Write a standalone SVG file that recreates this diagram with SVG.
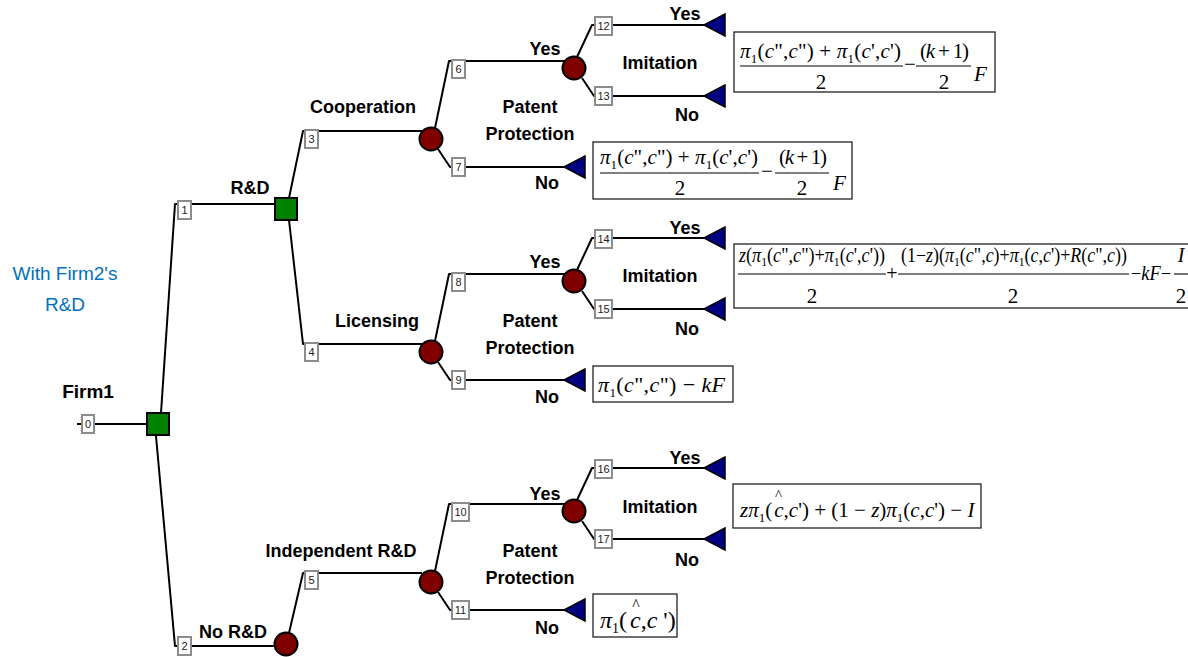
<svg xmlns="http://www.w3.org/2000/svg" width="1188" height="657" viewBox="0 0 1188 657">
<defs>
<style>
.w{fill:none;stroke:#000;stroke-width:2;stroke-linejoin:round}
.dec{fill:#008000;stroke:#000;stroke-width:2}
.ch{fill:#800000;stroke:#000;stroke-width:2}
.end{fill:#000080;stroke:#000;stroke-width:1.5}
.tag rect{fill:#fff;stroke:#8c8c8c;stroke-width:2}
.tag text{font-family:"Liberation Sans",Arial,sans-serif;font-size:11px;fill:#222;text-anchor:middle}
.lb{font-family:"Liberation Sans",Arial,sans-serif;font-weight:bold;font-size:18px;fill:#000;text-anchor:middle}
.note{font-family:"Liberation Sans",Arial,sans-serif;font-size:19px;fill:#0070c0;text-anchor:middle}
.pb{fill:#fff;stroke:#222;stroke-width:1.3}
.m{font-family:"Liberation Serif","Times New Roman",serif;font-size:21px;fill:#000}
.m3{font-size:20px}
.d3{font-size:21px}
.i{font-style:italic}
.s{font-size:13px}
.fr{stroke:#000;stroke-width:1.1}
.c{text-anchor:middle}
</style>
</defs>
<rect width="1188" height="657" fill="#fff"/>

<!-- branches -->
<g id="connectors">
<path class="w" d="M77,424 H82 M94,424 H147"/>
<path class="w" d="M161,413 L175,204 H275"/>
<path class="w" d="M156,436 L175,646 H276"/>
<path class="w" d="M289,198 L303,131 H422"/>
<path class="w" d="M289,220 L303,344 H422"/>
<path class="w" d="M289,633 L303,573 H422"/>
<path class="w" d="M435,128 L449,61 H565"/>
<path class="w" d="M438,149 L450,167 H564"/>
<path class="w" d="M577,57 L592,25 H704"/>
<path class="w" d="M582,78 L594,96 H704"/>
<path class="w" d="M435,341 L449,274 H565"/>
<path class="w" d="M438,362 L450,380 H564"/>
<path class="w" d="M577,270 L592,238 H704"/>
<path class="w" d="M582,291 L594,309 H704"/>
<path class="w" d="M435,571 L449,504 H565"/>
<path class="w" d="M438,592 L450,610 H564"/>
<path class="w" d="M577,500 L592,468 H704"/>
<path class="w" d="M582,521 L594,539 H704"/>
</g>

<!-- decision nodes -->
<g id="node-firm1"><rect class="dec" x="147" y="413" width="22" height="22"/><text class="lb" x="88" y="398" style="font-size:19px">Firm1</text></g>
<g id="node-rd"><rect class="dec" x="275" y="198" width="22" height="22"/></g>

<!-- chance nodes -->
<g id="node-nord"><circle class="ch" cx="286" cy="644" r="11.5"/></g>
<g id="node-coop"><circle class="ch" cx="431" cy="139" r="11.5"/></g>
<g id="node-lic"><circle class="ch" cx="431" cy="352" r="11.5"/></g>
<g id="node-ind"><circle class="ch" cx="431" cy="582" r="11.5"/></g>
<g id="node-imit-a"><circle class="ch" cx="574" cy="68" r="11.5"/></g>
<g id="node-imit-b"><circle class="ch" cx="574" cy="281" r="11.5"/></g>
<g id="node-imit-c"><circle class="ch" cx="574" cy="511" r="11.5"/></g>

<!-- end nodes -->
<g id="node-end12"><polygon class="end" points="704,25 725,14 725,36"/></g>
<g id="node-end13"><polygon class="end" points="704,96 725,85 725,107"/></g>
<g id="node-end7"><polygon class="end" points="564,167 585,156 585,178"/></g>
<g id="node-end14"><polygon class="end" points="704,238 725,227 725,249"/></g>
<g id="node-end15"><polygon class="end" points="704,309 725,298 725,320"/></g>
<g id="node-end9"><polygon class="end" points="564,380 585,369 585,391"/></g>
<g id="node-end16"><polygon class="end" points="704,468 725,457 725,479"/></g>
<g id="node-end17"><polygon class="end" points="704,539 725,528 725,550"/></g>
<g id="node-end11"><polygon class="end" points="564,610 585,599 585,621"/></g>

<!-- numbered tags -->
<g class="tag" id="tags">
<rect x="82" y="415" width="12" height="18"/><text x="88" y="428">0</text>
<rect x="178" y="201" width="13" height="18"/><text x="184.5" y="214">1</text>
<rect x="178" y="637" width="13" height="18"/><text x="184.5" y="650">2</text>
<rect x="305" y="130" width="13" height="18"/><text x="311.5" y="143">3</text>
<rect x="305" y="343" width="13" height="18"/><text x="311.5" y="356">4</text>
<rect x="305" y="571" width="13" height="18"/><text x="311.5" y="584">5</text>
<rect x="452" y="60" width="13" height="18"/><text x="458.5" y="73">6</text>
<rect x="452" y="158" width="13" height="18"/><text x="458.5" y="171">7</text>
<rect x="452" y="273" width="13" height="18"/><text x="458.5" y="286">8</text>
<rect x="452" y="371" width="13" height="18"/><text x="458.5" y="384">9</text>
<rect x="452" y="503" width="17" height="18"/><text x="460.5" y="516">10</text>
<rect x="452" y="601" width="17" height="18"/><text x="460.5" y="614">11</text>
<rect x="595" y="17" width="17" height="18"/><text x="603.5" y="30">12</text>
<rect x="595" y="87" width="17" height="18"/><text x="603.5" y="100">13</text>
<rect x="595" y="230" width="17" height="18"/><text x="603.5" y="243">14</text>
<rect x="595" y="300" width="17" height="18"/><text x="603.5" y="313">15</text>
<rect x="595" y="460" width="17" height="18"/><text x="603.5" y="473">16</text>
<rect x="595" y="530" width="17" height="18"/><text x="603.5" y="543">17</text>
</g>

<!-- branch labels -->
<g id="labels">
<text class="note" x="65" y="280">With Firm2's</text>
<text class="note" x="65" y="311">R&amp;D</text>
<text class="lb" x="250" y="194">R&amp;D</text>
<text class="lb" x="233" y="638">No R&amp;D</text>
<text class="lb" x="363" y="113">Cooperation</text>
<text class="lb" x="377" y="327">Licensing</text>
<text class="lb" x="341" y="557">Independent R&amp;D</text>

<text class="lb" x="545" y="55">Yes</text>
<text class="lb" x="530" y="113">Patent</text>
<text class="lb" x="530" y="140">Protection</text>
<text class="lb" x="547" y="189">No</text>
<text class="lb" x="685" y="20">Yes</text>
<text class="lb" x="660" y="69">Imitation</text>
<text class="lb" x="687" y="121">No</text>

<text class="lb" x="545" y="268">Yes</text>
<text class="lb" x="530" y="327">Patent</text>
<text class="lb" x="530" y="354">Protection</text>
<text class="lb" x="547" y="403">No</text>
<text class="lb" x="685" y="234">Yes</text>
<text class="lb" x="660" y="282">Imitation</text>
<text class="lb" x="687" y="335">No</text>

<text class="lb" x="545" y="500">Yes</text>
<text class="lb" x="530" y="557">Patent</text>
<text class="lb" x="530" y="584">Protection</text>
<text class="lb" x="547" y="634">No</text>
<text class="lb" x="685" y="464">Yes</text>
<text class="lb" x="660" y="513">Imitation</text>
<text class="lb" x="687" y="566">No</text>
</g>

<!-- payoffs -->
<g id="payoff-coop-yes">
<rect class="pb" x="734" y="32" width="261" height="60"/>
<text class="m" x="740" y="58" textLength="161" lengthAdjust="spacing"><tspan class="i">π</tspan><tspan class="s" dy="5">1</tspan><tspan dy="-5">(</tspan><tspan class="i">c</tspan>",<tspan class="i">c</tspan>") + <tspan class="i">π</tspan><tspan class="s" dy="5">1</tspan><tspan dy="-5">(</tspan><tspan class="i">c</tspan>',<tspan class="i">c</tspan>')</text>
<line class="fr" x1="740" y1="66" x2="903" y2="66"/>
<text class="m c" x="821" y="89">2</text>
<text class="m c" x="910" y="71">−</text>
<text class="m" x="920" y="58" textLength="49" lengthAdjust="spacing">(<tspan class="i">k</tspan> + 1)</text>
<line class="fr" x1="916" y1="66" x2="971" y2="66"/>
<text class="m c" x="944" y="89">2</text>
<text class="m i" x="974" y="81">F</text>
</g>

<g id="payoff-coop-no">
<rect class="pb" x="593" y="142" width="259" height="57"/>
<text class="m" x="600" y="164" textLength="158" lengthAdjust="spacing"><tspan class="i">π</tspan><tspan class="s" dy="5">1</tspan><tspan dy="-5">(</tspan><tspan class="i">c</tspan>",<tspan class="i">c</tspan>") + <tspan class="i">π</tspan><tspan class="s" dy="5">1</tspan><tspan dy="-5">(</tspan><tspan class="i">c</tspan>',<tspan class="i">c</tspan>')</text>
<line class="fr" x1="600" y1="173" x2="759" y2="173"/>
<text class="m c" x="680" y="195">2</text>
<text class="m c" x="767" y="178">−</text>
<text class="m" x="779" y="164" textLength="48" lengthAdjust="spacing">(<tspan class="i">k</tspan> + 1)</text>
<line class="fr" x1="775" y1="173" x2="829" y2="173"/>
<text class="m c" x="802" y="195">2</text>
<text class="m i" x="833" y="190">F</text>
</g>

<g id="payoff-lic-yes">
<rect class="pb" x="734" y="244" width="460" height="64"/>
<text class="m m3" x="739" y="262" textLength="146" lengthAdjust="spacingAndGlyphs"><tspan class="i">z</tspan>(<tspan class="i">π</tspan><tspan class="s" dy="4">1</tspan><tspan dy="-4">(</tspan><tspan class="i">c</tspan>",<tspan class="i">c</tspan>")+<tspan class="i">π</tspan><tspan class="s" dy="4">1</tspan><tspan dy="-4">(</tspan><tspan class="i">c</tspan>',<tspan class="i">c</tspan>'))</text>
<line class="fr" x1="738" y1="274" x2="886" y2="274"/>
<text class="m d3 c" x="812" y="303">2</text>
<text class="m m3 c" x="892" y="280">+</text>
<text class="m m3" x="901" y="262" textLength="226" lengthAdjust="spacingAndGlyphs">(1−<tspan class="i">z</tspan>)(<tspan class="i">π</tspan><tspan class="s" dy="4">1</tspan><tspan dy="-4">(</tspan><tspan class="i">c</tspan>",<tspan class="i">c</tspan>)+<tspan class="i">π</tspan><tspan class="s" dy="4">1</tspan><tspan dy="-4">(</tspan><tspan class="i">c</tspan>,<tspan class="i">c</tspan>')+<tspan class="i">R</tspan>(<tspan class="i">c</tspan>",<tspan class="i">c</tspan>))</text>
<line class="fr" x1="898" y1="274" x2="1129" y2="274"/>
<text class="m d3 c" x="1013" y="303">2</text>
<text class="m m3" x="1131" y="280" textLength="40" lengthAdjust="spacingAndGlyphs">−<tspan class="i">kF</tspan>−</text>
<text class="m m3 i c" x="1181" y="262">I</text>
<line class="fr" x1="1174" y1="274" x2="1188" y2="274"/>
<text class="m d3 c" x="1181" y="303">2</text>
</g>

<g id="payoff-lic-no">
<rect class="pb" x="593" y="366" width="140" height="36"/>
<text class="m" x="598" y="392" style="font-size:22px" textLength="127" lengthAdjust="spacing"><tspan class="i">π</tspan><tspan class="s" dy="5">1</tspan><tspan dy="-5">(</tspan><tspan class="i">c</tspan>",<tspan class="i">c</tspan>") − <tspan class="i">kF</tspan></text>
</g>

<g id="payoff-ind-yes">
<rect class="pb" x="733" y="484" width="248" height="44"/>
<text class="m" x="740" y="517"><tspan class="i">zπ</tspan><tspan class="s" dy="5">1</tspan><tspan dy="-5">(</tspan><tspan class="i" dx="2">c</tspan><tspan dx="-8.5" dy="-17" style="font-size:15px">^</tspan><tspan dx="1.5" dy="17">,</tspan><tspan class="i">c</tspan>') + (1 − <tspan class="i">z</tspan>)<tspan class="i">π</tspan><tspan class="s" dy="5">1</tspan><tspan dy="-5">(</tspan><tspan class="i">c</tspan>,<tspan class="i">c</tspan>') − <tspan class="i">I</tspan></text>
</g>

<g id="payoff-ind-no">
<rect class="pb" x="593" y="594" width="84" height="43"/>
<text class="m" x="600" y="628" style="font-size:24px"><tspan class="i">π</tspan><tspan dy="5" style="font-size:14px">1</tspan><tspan dy="-5">(</tspan><tspan class="i" dx="3">c</tspan><tspan dx="-8.5" dy="-18" style="font-size:16px">^</tspan><tspan dx="1" dy="18">,</tspan><tspan class="i">c</tspan> ')</text>
</g>
</svg>
